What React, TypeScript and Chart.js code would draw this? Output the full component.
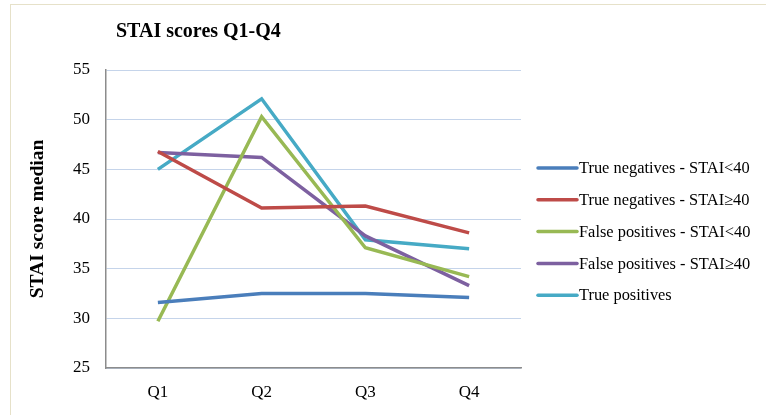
import React, { useEffect, useRef } from "react";
import { Chart, registerables } from "chart.js";

Chart.register(...registerables);

const categories = ["Q1", "Q2", "Q3", "Q4"];
const trueNegLow = [31.6, 32.5, 32.5, 32.1];
const trueNegHigh = [46.8, 41.1, 41.3, 38.6];
const falsePosLow = [29.7, 50.3, 37.1, 34.2];
const falsePosHigh = [46.7, 46.2, 38.3, 33.3];
const truePos = [45.0, 52.1, 37.9, 37.0];
const seriesNames = [
  "True negatives - STAI<40",
  "True negatives - STAI\u226540",
  "False positives - STAI<40",
  "False positives - STAI\u226540",
  "True positives",
];
const seriesColors = ["#4a7ebb", "#be4b48", "#98b954", "#7d60a0", "#46aac5"];
const titleText = "STAI scores Q1-Q4";
const yTitle = "STAI score median";
const yMin = 25;
const yMax = 55;
const yStep = 5;

const FONT = "'Liberation Serif', 'Times New Roman', serif";

const decorPlugin = {
  id: "decor",
  afterDraw(chart: any) {
    const ctx = chart.ctx;
    const area = chart.chartArea;
    ctx.save();
    // title
    ctx.fillStyle = "#000";
    ctx.font = `bold 20px ${FONT}`;
    ctx.textAlign = "left";
    ctx.textBaseline = "middle";
    ctx.fillText(titleText, 116, 32);
    // y title
    ctx.save();
    ctx.translate(38, (area.top + area.bottom) / 2);
    ctx.rotate(-Math.PI / 2);
    ctx.textAlign = "center";
    ctx.textBaseline = "middle";
    ctx.font = `bold 19.5px ${FONT}`;
    ctx.fillText(yTitle, 0, 0);
    ctx.restore();
    // legend
    chart.data.datasets.forEach((ds: any, i: number) => {
      const y = 168 + i * 31.8;
      ctx.strokeStyle = ds.borderColor;
      ctx.lineWidth = 3.5;
      ctx.lineCap = "round";
      ctx.beginPath();
      ctx.moveTo(538, y);
      ctx.lineTo(577, y);
      ctx.stroke();
      ctx.fillStyle = "#000";
      ctx.font = `16.4px ${FONT}`;
      ctx.textAlign = "left";
      ctx.textBaseline = "middle";
      ctx.fillText(ds.label, 579, y + 1);
    });
    ctx.restore();
  },
};

export default function App() {
  const ref = useRef<HTMLCanvasElement | null>(null);
  useEffect(() => {
    document.body.style.margin = "0";
    if (!ref.current) return;
    const seriesData = [trueNegLow, trueNegHigh, falsePosLow, falsePosHigh, truePos];
    const chart = new Chart(ref.current, {
      type: "line",
      data: {
        labels: categories,
        datasets: seriesData.map((d, i) => ({
          label: seriesNames[i],
          data: d,
          borderColor: seriesColors[i],
          backgroundColor: seriesColors[i],
          borderWidth: 3.5,
          pointRadius: 0,
          tension: 0,
          fill: false,
        })),
      },
      options: {
        animation: false,
        responsive: false,
        maintainAspectRatio: false,
        layout: { padding: { left: 0, right: 245, top: 70, bottom: 0 } },
        plugins: {
          legend: { display: false },
          title: { display: false },
          tooltip: { enabled: false },
        },
        scales: {
          x: {
            offset: true,
            grid: { display: false, drawTicks: false },
            border: { display: true, color: "#8c8c8c", width: 1.5 },
            ticks: {
              color: "#000",
              font: { family: FONT, size: 17 },
              padding: 14,
            },
            afterFit: (scale: any) => {
              scale.height = 47;
            },
          },
          y: {
            min: yMin,
            max: yMax,
            grid: { color: "#c5d4ea", lineWidth: 1, drawTicks: false },
            border: { display: true, color: "#8c8c8c", width: 1.5 },
            ticks: {
              stepSize: yStep,
              color: "#000",
              font: { family: FONT, size: 17 },
              padding: 16,
            },
            afterFit: (scale: any) => {
              scale.width = 106;
            },
          },
        },
      },
      plugins: [decorPlugin],
    });
    return () => chart.destroy();
  }, []);
  return (
    <div style={{ position: "relative", width: 766, height: 415, overflow: "hidden", background: "#fff" }}>
      <div
        style={{
          position: "absolute",
          left: 10,
          top: 4,
          width: 800,
          height: 500,
          borderTop: "1.5px solid #e6e1c9",
          borderLeft: "1.5px solid #e6e1c9",
        }}
      />
      <canvas ref={ref} width={766} height={415} style={{ position: "absolute", left: 0, top: 0 }} />
    </div>
  );
}
